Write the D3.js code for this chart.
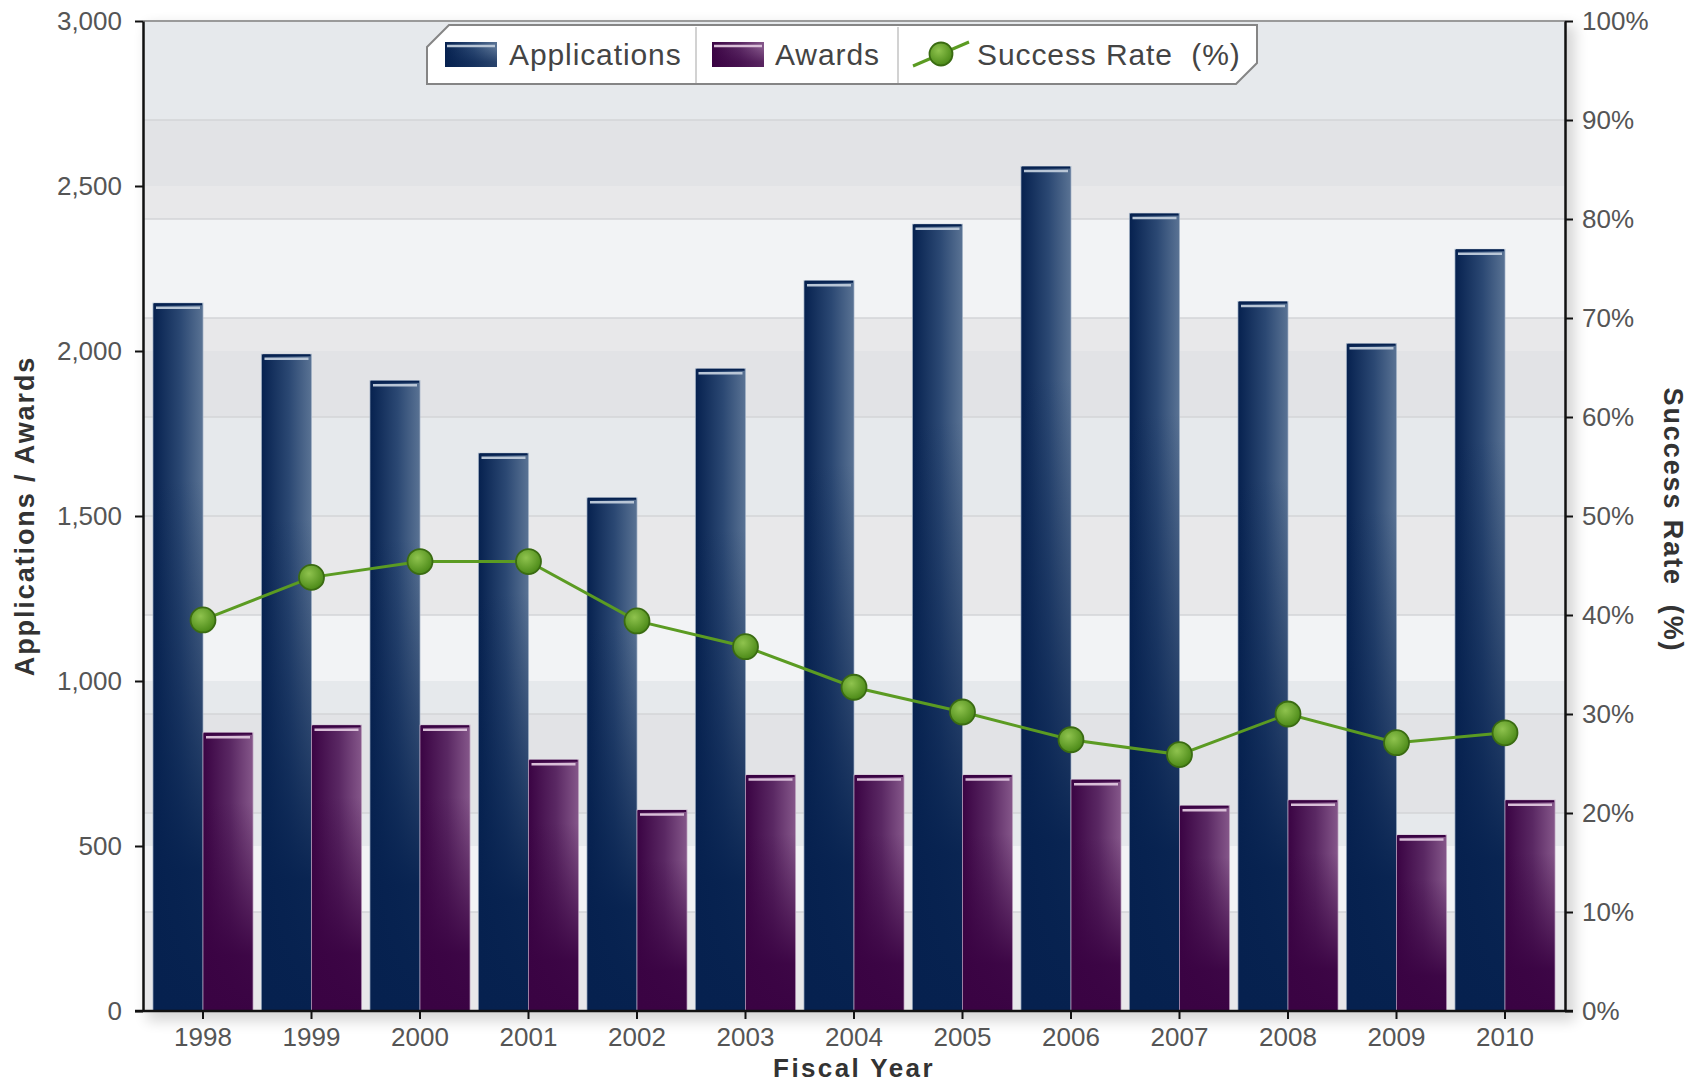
<!DOCTYPE html>
<html>
<head>
<meta charset="utf-8">
<script src="https://cdn.jsdelivr.net/npm/d3@7"></script>
<style>
  html, body { margin: 0; padding: 0; background: #fff; }
  svg { display: block; font-family: "Liberation Sans", Arial, sans-serif; }
  .tick text { font-size: 26px; fill: #555; }
  .title { font-size: 27px; font-weight: bold; fill: #333; letter-spacing: 1.9px; white-space: pre; }
  .legend text { font-size: 30px; fill: #444; letter-spacing: 0.9px; white-space: pre; }
</style>
</head>
<body>
<main></main>
<script>
const years = ['1998', '1999', '2000', '2001', '2002', '2003', '2004', '2005', '2006', '2007', '2008', '2009', '2010'];
const applications = [2145, 1990, 1910, 1690, 1555, 1946, 2213, 2384, 2559, 2417, 2150, 2022, 2308];
const awards = [843, 866, 866, 761, 609, 715, 715, 715, 701, 622, 639, 533, 639];
const successRate = [39.5, 43.8, 45.4, 45.4, 39.4, 36.8, 32.7, 30.2, 27.4, 25.9, 30.0, 27.1, 28.1];
const leftTicks = [0, 500, 1000, 1500, 2000, 2500, 3000];
const rightTicks = [0, 10, 20, 30, 40, 50, 60, 70, 80, 90, 100];
const seriesNames = ['Applications', 'Awards', 'Success Rate  (%)'];

const w = 1704;
const h = 1084;
const pLeft = 143, pRight = 1565, pTop = 21, pBottom = 1011;

const svg = d3.select('main').append('svg')
  .attr('width', w)
  .attr('height', h);

const defs = svg.append('defs');

// bar gradients
const barColors = {
  apps: { dark: '#06214f', mid: '#2b4873', light: '#5a7394', hi: '#b9c6d6', edge: '#a3b2c6' },
  awards: { dark: '#3a0343', mid: '#5a2863', light: '#85578a', hi: '#d9bfd8', edge: '#bfa3c1' }
};
Object.keys(barColors).forEach(k => {
  const c = barColors[k];
  const hg = defs.append('linearGradient').attr('id', 'h-' + k)
    .attr('x1', '0%').attr('x2', '100%').attr('y1', '0%').attr('y2', '0%');
  hg.append('stop').attr('offset', '0%').attr('stop-color', c.dark);
  hg.append('stop').attr('offset', '55%').attr('stop-color', c.mid);
  hg.append('stop').attr('offset', '100%').attr('stop-color', c.light);
  const vg = defs.append('linearGradient').attr('id', 'v-' + k)
    .attr('x1', '0%').attr('x2', '0%').attr('y1', '0%').attr('y2', '100%');
  vg.append('stop').attr('offset', '25%').attr('stop-color', c.dark).attr('stop-opacity', 0);
  vg.append('stop').attr('offset', '80%').attr('stop-color', c.dark).attr('stop-opacity', 0.95);
  vg.append('stop').attr('offset', '100%').attr('stop-color', c.dark).attr('stop-opacity', 1);
});

const dot = defs.append('radialGradient').attr('id', 'dot')
  .attr('cx', '40%').attr('cy', '35%').attr('r', '65%');
dot.append('stop').attr('offset', '0%').attr('stop-color', '#8fc34e');
dot.append('stop').attr('offset', '100%').attr('stop-color', '#4c8a18');

defs.append('filter').attr('id', 'shadow')
  .attr('x', '-5%').attr('y', '-5%').attr('width', '110%').attr('height', '110%')
  .append('feGaussianBlur').attr('stdDeviation', 7);

// scales
const x0 = d3.scaleBand()
  .domain(years)
  .range([pLeft, pRight])
  .paddingInner(0.078)
  .paddingOuter(0.092);

const x1 = d3.scaleBand()
  .domain(['apps', 'awards'])
  .range([0, x0.bandwidth()]);

const yLeft = d3.scaleLinear().domain([0, 3000]).range([pBottom, pTop]);
const yRight = d3.scaleLinear().domain([0, 100]).range([pBottom, pTop]);

// plot background
svg.append('rect')
  .attr('x', pLeft + 4).attr('y', pTop + 4)
  .attr('width', pRight - pLeft + 6).attr('height', pBottom - pTop + 6)
  .attr('fill', '#000').attr('opacity', 0.16)
  .attr('filter', 'url(#shadow)');

svg.append('rect')
  .attr('x', pLeft).attr('y', pTop)
  .attr('width', pRight - pLeft).attr('height', pBottom - pTop)
  .attr('fill', '#f2f3f5');

const bandsA = d3.pairs(leftTicks).filter((d, i) => i % 2 === 1);
svg.append('g').selectAll('rect')
  .data(bandsA)
  .enter()
  .append('rect')
  .attr('x', pLeft).attr('width', pRight - pLeft)
  .attr('y', d => yLeft(d[1]))
  .attr('height', d => yLeft(d[0]) - yLeft(d[1]))
  .attr('fill', '#dadfe3').attr('opacity', 0.5);

const bandsB = d3.pairs(rightTicks).filter((d, i) => i % 2 === 0);
svg.append('g').selectAll('rect')
  .data(bandsB)
  .enter()
  .append('rect')
  .attr('x', pLeft).attr('width', pRight - pLeft)
  .attr('y', d => yRight(d[1]))
  .attr('height', d => yRight(d[0]) - yRight(d[1]))
  .attr('fill', '#dedddf').attr('opacity', 0.5);

svg.append('g').selectAll('line')
  .data(rightTicks.slice(1, -1))
  .enter()
  .append('line')
  .attr('x1', pLeft).attr('x2', pRight)
  .attr('y1', d => yRight(d)).attr('y2', d => yRight(d))
  .attr('stroke', '#d3d4d7').attr('stroke-width', 1.5);

svg.append('line')
  .attr('x1', pLeft).attr('x2', pRight)
  .attr('y1', pTop).attr('y2', pTop)
  .attr('stroke', '#9a9a9a').attr('stroke-width', 2);

// bars
const groups = svg.append('g').selectAll('g')
  .data(years)
  .enter()
  .append('g')
  .attr('transform', d => `translate(${x0(d)},0)`);

const drawBars = (key, values) => {
  const c = barColors[key];
  const g = groups.append('g');
  const bw = x1.bandwidth();
  g.append('rect')
    .attr('x', x1(key)).attr('width', bw)
    .attr('y', (d, i) => yLeft(values[i]))
    .attr('height', (d, i) => pBottom - yLeft(values[i]))
    .attr('fill', `url(#h-${key})`);
  g.append('rect')
    .attr('x', x1(key)).attr('width', bw)
    .attr('y', (d, i) => yLeft(values[i]))
    .attr('height', (d, i) => pBottom - yLeft(values[i]))
    .attr('fill', `url(#v-${key})`)
    .attr('stroke', c.edge).attr('stroke-width', 1).attr('stroke-opacity', 0.7);
  g.append('line')
    .attr('x1', x1(key) + 1).attr('x2', x1(key) + bw - 1)
    .attr('y1', (d, i) => yLeft(values[i]) + 1).attr('y2', (d, i) => yLeft(values[i]) + 1)
    .attr('stroke', c.dark).attr('stroke-width', 2);
  g.append('line')
    .attr('x1', x1(key) + 3).attr('x2', x1(key) + bw - 3)
    .attr('y1', (d, i) => yLeft(values[i]) + 4.5).attr('y2', (d, i) => yLeft(values[i]) + 4.5)
    .attr('stroke', c.hi).attr('stroke-width', 2.5);
};
drawBars('apps', applications);
drawBars('awards', awards);

// success rate line
const cx = d => x0(d) + x0.bandwidth() / 2;
const line = d3.line()
  .x((d, i) => cx(years[i]))
  .y(d => yRight(d));

svg.append('path')
  .datum(successRate)
  .attr('d', line)
  .attr('fill', 'none')
  .attr('stroke', '#5b9b22')
  .attr('stroke-width', 3);

svg.append('g').selectAll('circle')
  .data(successRate)
  .enter()
  .append('circle')
  .attr('cx', (d, i) => cx(years[i]))
  .attr('cy', d => yRight(d))
  .attr('r', 12.5)
  .attr('fill', 'url(#dot)')
  .attr('stroke', '#3a6b12')
  .attr('stroke-width', 1.8);

// axes
const yAxisL = d3.axisLeft(yLeft).tickValues(leftTicks).tickFormat(d3.format(','))
  .tickSize(8).tickPadding(13).tickSizeOuter(0);
const yAxisR = d3.axisRight(yRight).tickValues(rightTicks).tickFormat(d => d + '%')
  .tickSize(8).tickPadding(9).tickSizeOuter(0);
const xAxis = d3.axisBottom(x0).tickSize(8).tickPadding(9).tickSizeOuter(0);

const gx = svg.append('g')
  .attr('transform', `translate(0,${pBottom})`)
  .call(xAxis);
const gl = svg.append('g')
  .attr('transform', `translate(${pLeft},0)`)
  .call(yAxisL);
const gr = svg.append('g')
  .attr('transform', `translate(${pRight},0)`)
  .call(yAxisR);

[gx, gl, gr].forEach(g => {
  g.select('.domain').attr('stroke', '#111').attr('stroke-width', 2.5);
  g.selectAll('.tick line').attr('stroke', '#111').attr('stroke-width', 2);
  g.attr('font-family', null).attr('font-size', null);
});
gx.select('.domain').attr('d', `M${pLeft - 8},0H${pRight + 8}`);

// titles
svg.append('text')
  .attr('class', 'title')
  .attr('x', (pLeft + pRight) / 2).attr('y', 1077)
  .attr('text-anchor', 'middle')
  .style('font-size', '26px')
  .style('letter-spacing', '2.4px')
  .text('Fiscal Year');

svg.append('text')
  .attr('class', 'title')
  .attr('transform', 'translate(34,516) rotate(-90)')
  .attr('text-anchor', 'middle')
  .text('Applications / Awards');

svg.append('text')
  .attr('class', 'title')
  .attr('transform', 'translate(1664,520) rotate(90)')
  .attr('text-anchor', 'middle')
  .text(seriesNames[2]);

// legend
const legend = svg.append('g').attr('class', 'legend');
legend.append('path')
  .attr('d', 'M427,47L449,25H1257V63L1236,84H427Z')
  .attr('fill', '#fff')
  .attr('stroke', '#858585')
  .attr('stroke-width', 2);

legend.selectAll('line.sep')
  .data([696, 898])
  .enter()
  .append('line')
  .attr('class', 'sep')
  .attr('x1', d => d).attr('x2', d => d)
  .attr('y1', 27).attr('y2', 83)
  .attr('stroke', '#d2d2d2').attr('stroke-width', 2);

const swatch = (key, x) => {
  const c = barColors[key];
  legend.append('rect').attr('x', x).attr('y', 42).attr('width', 52).attr('height', 25)
    .attr('fill', `url(#h-${key})`);
  legend.append('rect').attr('x', x).attr('y', 42).attr('width', 52).attr('height', 25)
    .attr('fill', `url(#v-${key})`).attr('opacity', 0.6);
  legend.append('line').attr('x1', x + 2).attr('x2', x + 50).attr('y1', 46).attr('y2', 46)
    .attr('stroke', c.hi).attr('stroke-width', 2.5);
};
swatch('apps', 445);
swatch('awards', 712);

legend.append('line')
  .attr('x1', 913).attr('y1', 66).attr('x2', 969).attr('y2', 42)
  .attr('stroke', '#5b9b22').attr('stroke-width', 3);
legend.append('circle')
  .attr('cx', 941).attr('cy', 54).attr('r', 11.5)
  .attr('fill', 'url(#dot)').attr('stroke', '#3a6b12').attr('stroke-width', 1.8);

legend.selectAll('text')
  .data(seriesNames)
  .enter()
  .append('text')
  .attr('x', (d, i) => [509, 775, 977][i])
  .attr('y', 65)
  .text(d => d);
</script>
</body>
</html>
